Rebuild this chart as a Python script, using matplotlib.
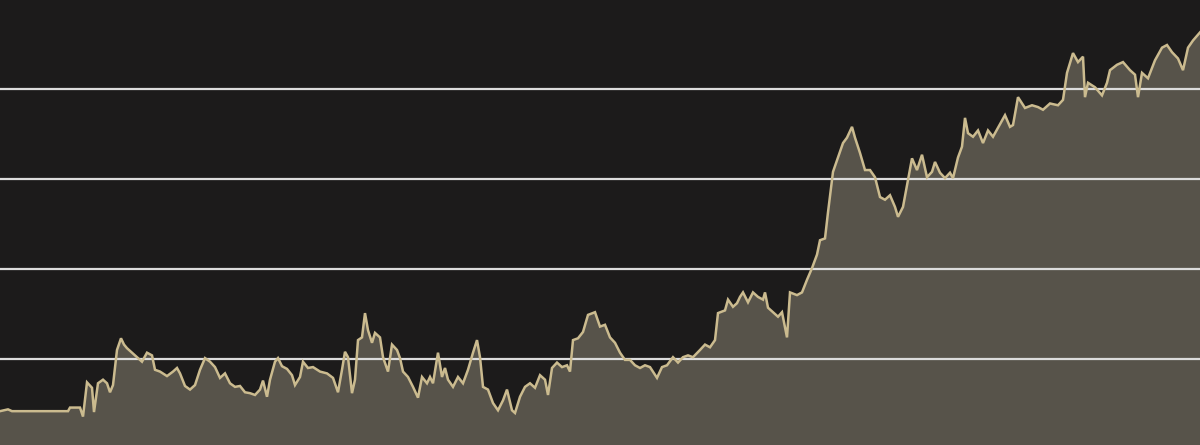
import numpy as np
import matplotlib
matplotlib.use('Agg')
import matplotlib.pyplot as plt

# session index and closing level
l_iSession_n = [0, 8, 12, 68, 70, 80, 83, 87, 92, 94, 98, 103, 107, 110, 113, 117, 121, 124, 127, 132,
                137, 142, 147, 152, 155, 160, 167, 173, 177, 180, 185, 190, 195, 200, 205, 210, 215, 220,
                225, 230, 235, 240, 245, 250, 255, 260, 263, 267, 270, 275, 278, 282, 287, 292, 295, 300,
                303, 308, 313, 320, 327, 333, 338, 342, 345, 348, 352, 355, 358, 362, 365, 368, 372, 375,
                380, 383, 388, 392, 397, 400, 403, 408, 413, 418, 422, 427, 430, 433, 438, 442, 445, 448,
                453, 458, 463, 468, 473, 477, 480, 483, 488, 493, 498, 503, 507, 512, 515, 520, 525, 530,
                535, 540, 545, 548, 552, 557, 562, 567, 570, 573, 578, 583, 588, 595, 600, 605, 610, 615,
                620, 625, 630, 635, 640, 645, 650, 657, 662, 667, 673, 678, 683, 688, 693, 700, 705, 710,
                715, 718, 725, 728, 733, 737, 740, 743, 748, 753, 758, 763, 765, 768, 773, 778, 782, 787,
                790, 797, 802, 807, 812, 817, 820, 825, 828, 833, 838, 843, 847, 852, 855, 860, 865, 870,
                875, 880, 885, 890, 895, 898, 903, 908, 912, 917, 922, 927, 932, 935, 940, 945, 950, 953,
                958, 962, 965, 968, 973, 978, 983, 988, 993, 998, 1005, 1010, 1013, 1018, 1025, 1032, 1038,
                1043, 1050, 1058, 1063, 1067, 1073, 1078, 1083, 1085, 1088, 1095, 1102, 1107, 1110, 1117,
                1123, 1130, 1135, 1138, 1142, 1148, 1155, 1162, 1167, 1172, 1178, 1183, 1188, 1193, 1200]

l_dLevel = [4.2, 4.4, 4.2, 4.2, 4.6, 4.6, 3.6, 7.4, 6.8, 4.1, 7.3, 7.7, 7.3, 6.3, 7.1, 11.0, 12.3, 11.6, 11.2, 10.7,
            10.2, 9.7, 10.7, 10.4, 8.8, 8.6, 8.1, 8.6, 9.0, 8.4, 7.0, 6.6, 7.1, 8.8, 10.1, 9.7, 9.1, 7.9,
            8.4, 7.3, 6.9, 7.0, 6.3, 6.2, 6.0, 6.6, 7.6, 5.8, 7.7, 9.7, 10.1, 9.2, 8.9, 8.2, 7.1, 8.0,
            9.7, 9.0, 9.1, 8.6, 8.4, 7.9, 6.3, 8.8, 10.8, 10.2, 6.2, 7.7, 12.1, 12.4, 15.1, 13.2, 11.8, 12.9,
            12.4, 10.2, 8.6, 11.6, 11.0, 10.1, 8.6, 8.0, 6.9, 5.7, 8.0, 7.3, 8.0, 7.3, 10.7, 8.0, 9.0, 7.7,
            6.9, 8.0, 7.3, 8.8, 10.7, 12.1, 10.2, 6.9, 6.6, 5.1, 4.3, 5.4, 6.6, 4.3, 4.0, 5.8, 6.9, 7.3,
            6.8, 8.2, 7.7, 6.0, 9.0, 9.6, 9.1, 9.3, 8.6, 12.1, 12.3, 13.0, 14.9, 15.2, 13.6, 13.8, 12.4, 11.8,
            10.7, 9.9, 9.9, 9.3, 9.0, 9.3, 9.1, 7.9, 9.1, 9.3, 10.2, 9.6, 10.2, 10.4, 10.2, 11.0, 11.6, 11.3,
            12.1, 15.1, 15.4, 16.6, 15.8, 16.2, 16.9, 17.4, 16.3, 17.4, 16.9, 16.6, 17.4, 15.7, 15.2, 14.7, 15.2, 12.4,
            17.4, 17.1, 17.4, 18.8, 20.1, 21.6, 23.2, 23.4, 26.3, 30.8, 32.4, 34.0, 34.6, 35.8, 34.6, 32.9, 31.0, 31.0,
            30.2, 28.0, 27.7, 28.2, 26.9, 25.8, 26.9, 29.9, 32.3, 31.0, 32.7, 30.2, 30.8, 31.9, 30.7, 30.1, 30.7, 30.1,
            32.4, 33.6, 36.8, 35.1, 34.7, 35.4, 34.0, 35.4, 34.7, 35.7, 37.1, 35.8, 36.0, 39.1, 37.9, 38.2, 38.0,
            37.7, 38.4, 38.2, 38.8, 41.8, 44.0, 43.0, 43.6, 39.1, 40.7, 40.2, 39.3, 40.7, 42.1, 42.7,
            43.0, 42.1, 41.6, 39.1, 41.8, 41.2, 43.2, 44.6, 44.9, 44.1, 43.4, 42.1, 44.6, 45.4, 46.3]

l_dGridLevels = [10, 20, 30, 40]

sBackground = '#1c1b1b'
sFill = '#57534a'
sLine = '#cbbb8f'
sGrid = '#dcdcdc'

fig = plt.figure(figsize=(12, 4.45), dpi=100)
fig.patch.set_facecolor(sBackground)
ax = fig.add_axes([0, 0, 1, 1])
ax.set_facecolor(sBackground)

dBottom = 0.44
ax.fill_between(l_iSession_n, l_dLevel, dBottom, color=sFill, lw=0, zorder=1)
for dLevel in l_dGridLevels:
    ax.axhline(dLevel, color=sGrid, lw=1.6, zorder=2)
ax.plot(l_iSession_n, l_dLevel, color=sLine, lw=1.8, zorder=3, solid_joinstyle='miter')

ax.set_xlim(0, 1200)
ax.set_ylim(dBottom, 49.9)
ax.axis('off')

fig.savefig('out.png', dpi=100, facecolor=sBackground)
